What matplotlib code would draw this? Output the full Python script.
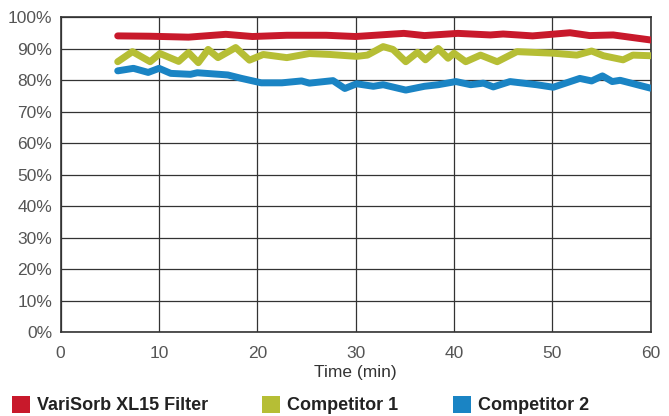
import numpy as np
import matplotlib
matplotlib.use("Agg")
import matplotlib.pyplot as plt
from matplotlib.patches import Patch

plt.rcParams['font.family'] = ['Liberation Sans', 'DejaVu Sans']

# VariSorb XL15 Filter
t_red = [5.8, 9.0, 13.0, 16.8, 19.5, 23.0, 27.0, 30.0, 34.9, 37.0, 40.4, 43.7, 45.0, 48.0, 51.8, 53.8, 56.2, 60.0]
y_red = [94.1, 94.0, 93.7, 94.6, 93.9, 94.3, 94.3, 93.9, 94.9, 94.2, 94.9, 94.4, 94.7, 94.1, 95.1, 94.2, 94.4, 92.8]

# Competitor 1
t_grn = [5.8, 7.3, 9.1, 10.1, 12.0, 13.0, 14.0, 15.0, 16.0, 17.8, 19.2, 20.6, 23.0, 25.3, 27.4, 30.1, 31.2,
         32.8, 33.8, 35.1, 36.3, 37.1, 38.4, 39.4, 40.0, 41.2, 42.7, 44.4, 46.4, 50.1, 52.5, 54.0, 55.2, 57.2, 58.2, 60.0]
y_grn = [85.9, 89.1, 85.9, 88.5, 86.0, 88.8, 85.6, 89.8, 87.2, 90.4, 86.4, 88.2, 87.2, 88.5, 88.2, 87.6, 88.0,
         90.7, 89.8, 85.9, 88.9, 86.5, 90.1, 87.0, 88.6, 85.9, 88.0, 85.9, 89.1, 88.6, 88.0, 89.3, 87.8, 86.5, 88.0, 87.8]

# Competitor 2
t_blu = [5.8, 7.4, 8.9, 10.0, 11.2, 13.2, 13.9, 17.0, 18.4, 20.4, 22.5, 24.5, 25.3, 27.7, 28.9, 30.1, 31.8,
         32.8, 35.1, 37.0, 38.4, 40.2, 41.7, 43.0, 44.0, 45.7, 48.4, 50.1, 52.8, 54.0, 55.1, 56.1, 56.9, 60.0]
y_blu = [83.0, 83.8, 82.5, 83.8, 82.2, 81.9, 82.4, 81.7, 80.6, 79.2, 79.2, 79.8, 79.1, 79.9, 77.4, 78.9, 78.1,
         78.6, 76.9, 78.1, 78.6, 79.6, 78.6, 79.1, 77.9, 79.6, 78.6, 77.8, 80.6, 79.8, 81.4, 79.6, 80.0, 77.5]

labels = ['VariSorb XL15 Filter', 'Competitor 1', 'Competitor 2']
colors = ['#c8192b', '#b6be35', '#1a84c4']

fig = plt.figure(figsize=(6.69, 4.16), dpi=100)
ax = fig.add_axes([0.0907, 0.2012, 0.8818, 0.7572])

for t, y, c in zip([t_red, t_grn, t_blu], [y_red, y_grn, y_blu], colors):
    ax.plot(t, y, color=c, lw=5, solid_joinstyle='round', solid_capstyle='round', zorder=3)

ax.set_xlim(0, 60)
ax.set_ylim(0, 100)
ax.set_xticks(np.arange(0, 61, 10))
ax.set_yticks(np.arange(0, 101, 10))
ax.set_yticklabels([f'{v}%' for v in range(0, 101, 10)])
ax.grid(True, color='#333333', lw=0.9, zorder=1)
for s in ax.spines.values():
    s.set_color('#333333')
    s.set_linewidth(1.2)
ax.tick_params(length=0, colors='#555555', labelsize=12.5, pad=6)
ax.tick_params(axis='x', pad=10)
ax.set_xlabel('Time (min)', fontsize=12.5, color='#333333', labelpad=3)

handles = [Patch(facecolor=c, edgecolor='none') for c in colors]
fig.legend(handles, labels, loc='lower left', bbox_to_anchor=(-0.007, -0.035), ncol=3, frameon=False,
           handlelength=1.0, handleheight=1.1, handletextpad=0.4, columnspacing=3.0,
           prop={'size': 13, 'weight': 'bold'}, labelcolor='#222222')

fig.savefig('out.png', dpi=100)
